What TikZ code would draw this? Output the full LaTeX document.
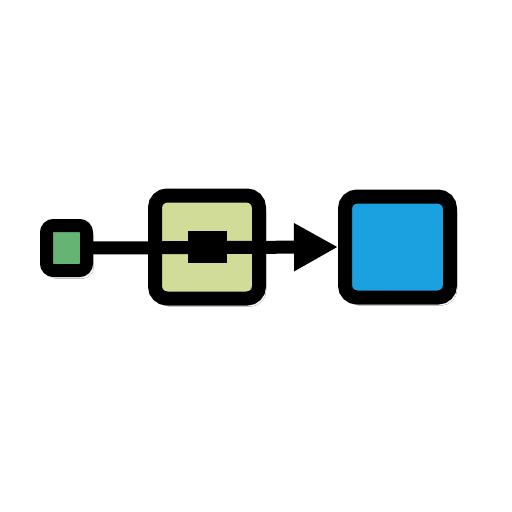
\documentclass[tikz,border=0pt]{standalone}
\usetikzlibrary{arrows.meta,shadows.blur}
\definecolor{gfill}{RGB}{102,180,115}
\definecolor{ofill}{RGB}{209,220,153}
\definecolor{bfill}{RGB}{27,160,224}
\tikzset{
  box/.style={draw=black, rounded corners=12pt, inner sep=0pt, outer sep=0pt,
    blur shadow={shadow xshift=3pt, shadow yshift=-4pt, shadow opacity=35, shadow blur steps=8, shadow blur radius=4pt}},
  link/.style={line width=13pt, -{Triangle[length=44pt,width=45pt]}}
}
\begin{document}
\begin{tikzpicture}[x=1pt,y=-1pt]
\path[use as bounding box, fill=white] (0,0) rectangle (512,512);
\node[box, line width=13pt, fill=gfill, minimum width=40pt, minimum height=45pt, rounded corners=7pt] (a) at (66.5,248) {};
\node[box, line width=14pt, fill=ofill, minimum width=104pt, minimum height=103pt] (b) at (207,247) {};
\node[box, line width=14pt, fill=bfill, minimum width=105pt, minimum height=101pt] (c) at (397.5,247) {};
\coordinate (tip) at ([xshift=-7pt]c.west);
\draw[link] (a.east) -- (tip);
\node[fill=black, inner sep=0pt, minimum width=39pt, minimum height=32pt] (m) at (b.center) {};
\end{tikzpicture}
\end{document}
